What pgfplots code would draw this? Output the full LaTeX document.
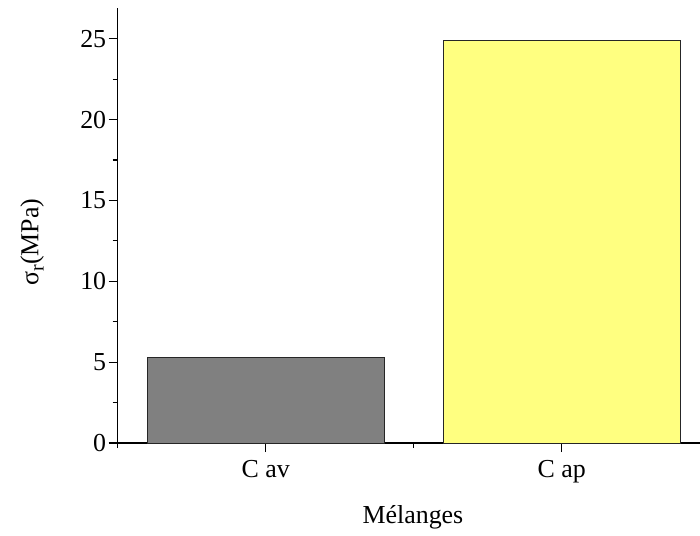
\documentclass[border=0pt]{standalone}
\usepackage{fontspec}
\setmainfont{Liberation Serif}
\usepackage{pgfplots}
\pgfplotsset{compat=1.18}
\definecolor{barGray}{RGB}{128,128,128}
\definecolor{barYellow}{RGB}{255,255,128}
\begin{document}
\begin{tikzpicture}
\useasboundingbox (-117.7bp,-93bp) rectangle (582.3bp,443bp);
\begin{axis}[
  at={(0,0)}, anchor=south west,
  scale only axis,
  width=582.3bp, height=435bp,
  xmin=0.5, xmax=2.467,
  ymin=0, ymax=26.9,
  axis lines*=left,
  axis line style={line width=1.3pt},
  tick align=outside,
  major tick length=9bp,
  minor tick length=5bp,
  every tick/.style={line width=1.2pt, black},
  xtick={1,2},
  xticklabels={C av, C ap},
  minor xtick={0.5,1.5,2.5},
  ytick={0,5,10,15,20,25},
  minor ytick={2.5,7.5,12.5,17.5,22.5},
  /pgf/number format/assume math mode=true,
  tick label style={font=\fontsize{26}{30}\selectfont},
  xticklabel style={yshift=-5bp},
  yticklabel style={xshift=1bp},
  xlabel={Mélanges},
  ylabel={σ\raisebox{-0.45ex}{\fontsize{20}{24}\selectfont r}(MPa)},
  label style={font=\fontsize{26}{30}\selectfont},
  xlabel style={at={(axis description cs:0.507,-0.184)}, anchor=base},
  ylabel style={at={(axis description cs:-0.147,0.462)}, anchor=center, rotate=0},
  clip=false,
]
\addplot[ybar, bar width=0.8, bar shift=0pt, fill=barGray, draw=black!85, line width=0.8pt]
  coordinates {(1,5.28)};
\addplot[ybar, bar width=0.8, bar shift=0pt, fill=barYellow, draw=black!85, line width=0.8pt]
  coordinates {(2,24.9)};
\end{axis}
\end{tikzpicture}
\end{document}
